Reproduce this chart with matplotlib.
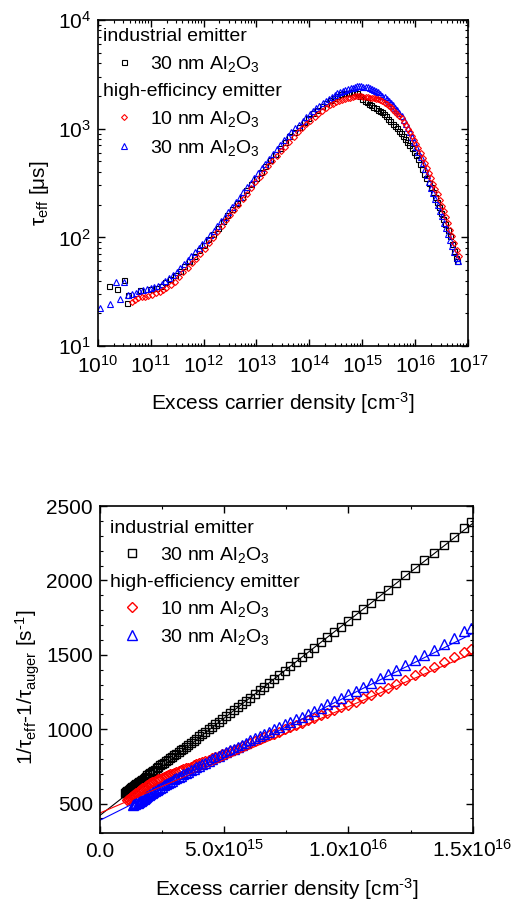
import numpy as np
import matplotlib
matplotlib.use("Agg")
import matplotlib.pyplot as plt
from matplotlib.ticker import LogLocator, MultipleLocator, NullFormatter
from matplotlib.lines import Line2D
from matplotlib.offsetbox import TextArea, DrawingArea, HPacker, VPacker, AnchoredOffsetbox

plt.rcParams['font.family'] = ['Liberation Sans', 'DejaVu Sans']
plt.rcParams['mathtext.fontset'] = 'custom'
plt.rcParams['mathtext.rm'] = 'Liberation Sans'
plt.rcParams['mathtext.it'] = 'Liberation Sans:italic'
plt.rcParams['mathtext.bf'] = 'Liberation Sans:bold'
plt.rcParams['mathtext.default'] = 'regular'

# ---- upper panel: tau_eff vs excess carrier density (log10 of n, tau in us) ----
top_black_lgn = [10.21, 10.36, 10.50, 10.55, 10.58, 10.80, 10.99,
                 11.10, 11.19, 11.28, 11.37, 11.46, 11.55, 11.64, 11.73, 11.82, 11.91,
                 12.00, 12.09, 12.18, 12.27, 12.36, 12.45, 12.54, 12.63, 12.72, 12.81,
                 12.90, 12.99, 13.08, 13.17, 13.26, 13.35, 13.44, 13.53, 13.62, 13.71,
                 13.80, 13.89, 13.98, 14.07, 14.15, 14.23, 14.31, 14.39, 14.46, 14.53,
                 14.60, 14.66, 14.72, 14.78, 14.84, 14.90, 14.95, 15.00, 15.05, 15.09,
                 15.13, 15.17, 15.21, 15.25, 15.29, 15.33, 15.37, 15.41, 15.45, 15.49,
                 15.53, 15.57, 15.61, 15.65, 15.69, 15.73, 15.77, 15.81, 15.85, 15.89,
                 15.93, 15.97, 16.01, 16.05, 16.09, 16.13, 16.17, 16.21, 16.25, 16.29,
                 16.33, 16.37, 16.41, 16.45, 16.49, 16.53, 16.57, 16.61, 16.65, 16.69,
                 16.73, 16.77, 16.79]
top_black_tau = [35.7, 33.3, 40.5, 25.0, 29.5, 32.8, 33.3,
                 34.3, 35.5, 38.5, 41.5, 44.9, 49.5, 55.0, 60.8, 68.1, 76.2,
                 85.1, 96.2, 108, 122, 140, 159, 182, 208, 237, 271,
                 309, 353, 402, 456, 519, 589, 670, 760, 851, 940,
                 1038, 1146, 1265, 1396, 1489, 1611, 1726, 1828, 1919, 2004,
                 2080, 2113, 2138, 2153, 2153, 2113, 2018, 1884, 1795, 1740,
                 1687, 1634, 1585, 1542, 1500, 1456, 1416, 1368, 1297, 1230,
                 1167, 1109, 1057, 1007, 959, 910, 855, 805, 757, 708,
                 659, 614, 571, 525, 474, 428, 385, 348, 316, 288,
                 263, 237, 211, 189, 168, 149, 132, 117, 102, 87,
                 75, 64, 60]

top_red_lgn = [10.64, 10.71, 10.77, 10.83, 10.89, 10.96, 11.02, 11.10, 11.18, 11.24,
               11.30, 11.38, 11.46, 11.54, 11.62, 11.70, 11.78, 11.86, 11.94, 12.02,
               12.10, 12.18, 12.26, 12.34, 12.42, 12.50, 12.58, 12.66, 12.74, 12.82,
               12.90, 12.98, 13.06, 13.14, 13.22, 13.30, 13.38, 13.46, 13.54, 13.62,
               13.70, 13.78, 13.86, 13.94, 14.02, 14.10, 14.17, 14.24, 14.31, 14.38,
               14.44, 14.50, 14.56, 14.62, 14.67, 14.72, 14.77, 14.82, 14.86, 14.90,
               14.94, 14.98, 15.02, 15.06, 15.10, 15.14, 15.18, 15.22, 15.26, 15.30,
               15.34, 15.38, 15.42, 15.46, 15.50, 15.54, 15.58, 15.62, 15.66, 15.70,
               15.74, 15.78, 15.82, 15.86, 15.90, 15.94, 15.98, 16.02, 16.06, 16.10,
               16.14, 16.18, 16.22, 16.26, 16.30, 16.34, 16.38, 16.42, 16.46, 16.50,
               16.54, 16.58, 16.62, 16.66, 16.70, 16.74, 16.78, 16.82]
top_red_tau = [25.6, 26.6, 27.5, 28.0, 28.5, 29.0, 29.5, 30.5, 31.6, 32.7,
               33.9, 36.5, 39.2, 43.5, 48.3, 52.8, 57.7, 63.6, 70.7, 78.9,
               88.5, 99.3, 112, 128, 145, 162, 180, 200, 225, 253,
               285, 320, 360, 403, 449, 499, 556, 618, 685, 759,
               843, 922, 1009, 1096, 1186, 1285, 1371, 1455, 1545, 1637,
               1694, 1742, 1794, 1849, 1884, 1908, 1932, 1954, 1977, 1995,
               1991, 1982, 1972, 1963, 1950, 1932, 1914, 1897, 1875, 1858,
               1841, 1782, 1730, 1675, 1622, 1567, 1500, 1436, 1374, 1315,
               1242, 1156, 1074, 998, 929, 855, 783, 718, 658, 603,
               540, 483, 433, 388, 348, 312, 279, 249, 221, 196,
               173, 154, 136, 118, 102, 89, 77, 67]

top_blue_lgn = [10.04, 10.23, 10.34, 10.43, 10.50, 10.58,
                10.65, 10.72, 10.79, 10.86, 10.93, 11.00, 11.07, 11.14, 11.21, 11.28,
                11.35, 11.42, 11.49, 11.56, 11.63, 11.70, 11.77, 11.84, 11.91, 11.98,
                12.05, 12.12, 12.19, 12.26, 12.33, 12.40, 12.47, 12.54, 12.61, 12.68,
                12.75, 12.82, 12.89, 12.96, 13.03, 13.10, 13.17, 13.24, 13.31, 13.38,
                13.45, 13.52, 13.59, 13.66, 13.73, 13.80, 13.87, 13.94, 14.01,
                14.07, 14.13, 14.19, 14.25, 14.31, 14.37, 14.43,
                14.48, 14.53, 14.58, 14.63, 14.68, 14.73, 14.78,
                14.82, 14.86, 14.90, 14.94, 14.98, 15.02, 15.06, 15.10, 15.14, 15.18,
                15.22, 15.26, 15.30, 15.34, 15.38, 15.42, 15.46, 15.50, 15.54, 15.58,
                15.62, 15.66, 15.70, 15.74, 15.78, 15.82, 15.86, 15.90, 15.94, 15.98,
                16.02, 16.06, 16.10, 16.14, 16.18, 16.22, 16.26, 16.30, 16.34, 16.38,
                16.42, 16.46, 16.50, 16.54, 16.58, 16.62, 16.66, 16.70, 16.74, 16.78,
                16.80]
top_blue_tau = [22.3, 24.3, 39.0, 27.1, 39.0, 29.5,
                30.3, 31.1, 31.9, 32.8, 33.7, 34.4, 35.2, 36.0, 37.5, 39.9,
                42.5, 45.2, 48.4, 52.4, 56.7, 61.4, 66.8, 73.0, 79.8, 87.1,
                95.5, 105, 115, 126, 140, 155, 172, 191, 211, 234,
                260, 288, 319, 354, 392, 433, 478, 528, 583, 645,
                712, 786, 863, 931, 1005, 1086, 1172, 1267, 1368,
                1462, 1545, 1629, 1718, 1807, 1892, 1972,
                2042, 2113, 2188, 2228, 2265, 2307, 2350,
                2382, 2410, 2443, 2455, 2455, 2438, 2421, 2399, 2355, 2312,
                2270, 2228, 2188, 2100, 2018, 1936, 1858, 1795, 1738, 1660,
                1563, 1475, 1390, 1294, 1189, 1094, 1007, 925, 837, 754,
                678, 611, 550, 482, 423, 371, 326, 286, 254, 225,
                199, 176, 156, 137, 121, 107, 94, 83, 73, 64,
                60]

# ---- lower panel: 1/tau_eff - 1/tau_auger vs n (n in 1e15 cm^-3, rate in 1/s) ----
bot_black_n = [1.00, 1.03, 1.06, 1.09, 1.12, 1.16, 1.19, 1.23, 1.26, 1.30,
               1.34, 1.38, 1.42, 1.46, 1.51, 1.55, 1.60, 1.65, 1.70, 1.75,
               1.80, 1.85, 1.91, 1.97, 2.03, 2.09, 2.15, 2.21, 2.28, 2.35,
               2.42, 2.49, 2.57, 2.64, 2.72, 2.80, 2.89, 2.97, 3.06, 3.16,
               3.25, 3.35, 3.45, 3.55, 3.66, 3.77, 3.88, 4.00, 4.12, 4.24,
               4.37, 4.50, 4.64, 4.78, 4.92, 5.07, 5.22, 5.38, 5.54, 5.70,
               5.87, 6.05, 6.23, 6.42, 6.61, 6.81, 7.01, 7.22, 7.44, 7.66,
               7.89, 8.13, 8.37, 8.62, 8.88, 9.15, 9.42, 9.70, 9.99, 10.29,
               10.60, 10.92, 11.25, 11.58, 11.93, 12.29, 12.66, 13.04, 13.43, 13.83,
               14.25, 14.67, 14.95]
bot_black_rate = [570, 574, 578, 582, 586, 591, 595, 600, 604, 609,
                  614, 620, 625, 630, 637, 642, 648, 655, 661, 668,
                  674, 681, 689, 697, 705, 712, 720, 728, 737, 746,
                  756, 765, 775, 784, 795, 805, 815, 824, 835, 847,
                  858, 870, 882, 895, 909, 923, 937, 952, 967, 982,
                  998, 1015, 1032, 1050, 1068, 1087, 1106, 1127, 1147, 1168,
                  1189, 1212, 1236, 1261, 1285, 1313, 1338, 1366, 1393, 1423,
                  1454, 1484, 1515, 1549, 1583, 1618, 1655, 1690, 1729, 1768,
                  1809, 1851, 1894, 1938, 1985, 2034, 2083, 2134, 2186, 2240,
                  2295, 2352, 2391]

bot_red_n = [1.09, 1.12, 1.16, 1.19, 1.23, 1.26, 1.30, 1.34, 1.38, 1.42,
             1.46, 1.51, 1.55, 1.60, 1.65, 1.70, 1.75, 1.80, 1.85, 1.91,
             1.97, 2.03, 2.09, 2.15, 2.21, 2.28, 2.35, 2.42, 2.49, 2.57,
             2.64, 2.72, 2.80, 2.89, 2.97, 3.06, 3.16, 3.25, 3.35, 3.45,
             3.55, 3.66, 3.77, 3.88, 4.00, 4.12, 4.24, 4.37, 4.50, 4.64,
             4.78, 4.92, 5.07, 5.22, 5.38, 5.54, 5.70, 5.87, 6.05, 6.23,
             6.42, 6.61, 6.81, 7.01, 7.22, 7.44, 7.66, 7.89, 8.13, 8.37,
             8.62, 8.88, 9.15, 9.42, 9.70, 9.99, 10.29, 10.60, 10.92, 11.25,
             11.58, 11.93, 12.29, 12.66, 13.04, 13.43, 13.83, 14.25, 14.67, 14.92]
bot_red_rate = [524, 528, 533, 537, 543, 547, 552, 558, 563, 569,
                574, 581, 585, 591, 596, 602, 607, 613, 618, 625,
                632, 637, 642, 647, 652, 657, 663, 668, 674, 680,
                685, 691, 696, 702, 707, 712, 718, 724, 730, 736,
                742, 749, 756, 763, 770, 778, 786, 795, 804, 813,
                823, 832, 842, 852, 863, 874, 885, 896, 908, 920,
                932, 945, 958, 971, 984, 999, 1013, 1028, 1043, 1059,
                1075, 1092, 1110, 1127, 1146, 1164, 1186, 1208, 1232, 1256,
                1280, 1305, 1332, 1361, 1391, 1421, 1452, 1483, 1517, 1537]

bot_blue_n = [1.34, 1.38, 1.42, 1.46, 1.51, 1.55, 1.60, 1.65, 1.70, 1.75,
              1.80, 1.85, 1.91, 1.97, 2.03, 2.09, 2.15, 2.21, 2.28, 2.35,
              2.42, 2.49, 2.57, 2.64, 2.72, 2.80, 2.89, 2.97, 3.06, 3.16,
              3.25, 3.35, 3.45, 3.55, 3.66, 3.77, 3.88, 4.00, 4.12, 4.24,
              4.37, 4.50, 4.64, 4.78, 4.92, 5.07, 5.22, 5.38, 5.54, 5.70,
              5.87, 6.05, 6.23, 6.42, 6.61, 6.81, 7.01, 7.22, 7.44, 7.66,
              7.89, 8.13, 8.37, 8.62, 8.88, 9.15, 9.42, 9.70, 9.99, 10.29,
              10.60, 10.92, 11.25, 11.58, 11.93, 12.29, 12.66, 13.04, 13.43, 13.83,
              14.25, 14.67, 14.92]
bot_blue_rate = [490, 494, 498, 501, 506, 510, 515, 520, 525, 531,
                 537, 543, 550, 557, 563, 570, 577, 583, 591, 599,
                 606, 614, 622, 629, 637, 645, 654, 662, 670, 679,
                 688, 697, 706, 715, 724, 734, 744, 755, 765, 775,
                 786, 798, 810, 821, 833, 846, 858, 870, 883, 896,
                 910, 924, 938, 953, 967, 983, 998, 1015, 1032, 1049,
                 1066, 1085, 1105, 1125, 1145, 1167, 1189, 1211, 1234, 1260,
                 1286, 1313, 1341, 1369, 1399, 1431, 1464, 1498, 1533, 1570,
                 1614, 1661, 1680]

# linear fits (intercept in 1/s, slope in 1/s per 1e15 cm^-3): black, red, blue
fit_intercept = [421, 437, 388]
fit_slope = [130.8, 71.5, 83.7]

# ---- ticks and text ----
top_xticks = [1e10, 1e11, 1e12, 1e13, 1e14, 1e15, 1e16, 1e17]
top_xlabels = [r'10$^{10}$', r'10$^{11}$', r'10$^{12}$', r'10$^{13}$',
               r'10$^{14}$', r'10$^{15}$', r'10$^{16}$', r'10$^{17}$']
top_yticks = [1e1, 1e2, 1e3, 1e4]
top_ylabels = [r'10$^{1}$', r'10$^{2}$', r'10$^{3}$', r'10$^{4}$']
bot_xticks = [0, 5e15, 1e16, 1.5e16]
bot_xlabels = ['0.0', r'5.0x10$^{15}$', r'1.0x10$^{16}$', r'1.5x10$^{16}$']
bot_yticks = [500, 1000, 1500, 2000, 2500]

series_names = ['30 nm Al$_2$O$_3$', '10 nm Al$_2$O$_3$', '30 nm Al$_2$O$_3$']
series_colors = ['black', 'red', 'blue']
series_markers = ['s', 'D', '^']

xlab = r'Excess carrier density [cm$^{\text{-}3}$]'


def add_key(ax, header2, sizes, mew, box_w, anchor, vsep):
    rows = [TextArea('industrial emitter', textprops=dict(size=14))]
    for i in range(3):
        if i == 1:
            rows.append(TextArea(header2, textprops=dict(size=14)))
        da = DrawingArea(box_w, 10, 0, 0)
        da.add_artist(Line2D([box_w / 2], [5], ls='none', marker=series_markers[i],
                             ms=sizes[i], mfc='none', mec=series_colors[i], mew=mew))
        ta = TextArea(series_names[i], textprops=dict(size=14))
        rows.append(HPacker(children=[da, ta], align='baseline', pad=0, sep=4))
    box = VPacker(children=rows, align='left', pad=0, sep=vsep)
    ab = AnchoredOffsetbox(loc='upper left', child=box, pad=0, borderpad=0, frameon=False,
                           bbox_to_anchor=anchor, bbox_transform=ax.transAxes)
    ax.add_artist(ab)


def style_axes(ax):
    for sp in ax.spines.values():
        sp.set_linewidth(1.2)
    ax.tick_params(which='both', direction='in', top=True, right=True, labelsize=15)
    ax.tick_params(which='major', length=5, width=1.0)
    ax.tick_params(which='minor', length=2.5, width=0.8)


fig = plt.figure(figsize=(5.14, 9.06), dpi=100)

# upper panel
ax1 = fig.add_axes([0.190, 0.618, 0.721, 0.360])
ax1.set_xscale('log')
ax1.set_yscale('log')
top_sizes = [3.6, 3.0, 4.3]
top_data = [(top_black_lgn, top_black_tau), (top_blue_lgn, top_blue_tau), (top_red_lgn, top_red_tau)]
for k, (lgn, tau) in zip([0, 2, 1], top_data):
    ax1.plot(10 ** np.array(lgn), tau, ls='none', marker=series_markers[k], ms=top_sizes[k],
             mfc='none', mec=series_colors[k], mew=0.8)
ax1.set_xlim(1e10, 1e17)
ax1.set_ylim(10, 1e4)
ax1.set_xticks(top_xticks)
ax1.set_xticklabels(top_xlabels)
ax1.set_yticks(top_yticks)
ax1.set_yticklabels(top_ylabels)
ax1.xaxis.set_minor_locator(LogLocator(base=10, subs=np.arange(2, 10), numticks=20))
ax1.yaxis.set_minor_locator(LogLocator(base=10, subs=np.arange(2, 10), numticks=20))
ax1.xaxis.set_minor_formatter(NullFormatter())
ax1.yaxis.set_minor_formatter(NullFormatter())
style_axes(ax1)
ax1.tick_params(axis='x', which='major', pad=6)
ax1.tick_params(axis='y', which='major', pad=5)
ax1.set_xlabel(xlab, fontsize=15, va='center')
ax1.xaxis.set_label_coords(0.5, -0.175)
ax1.set_ylabel('τ$_{eff}$ [μs]', fontsize=15, va='center')
ax1.yaxis.set_label_coords(-0.156, 0.47)
add_key(ax1, 'high-efficincy emitter', [3.6, 3.0, 4.3], 0.8, 30, (0.015, 0.976), 6.5)

# lower panel
ax2 = fig.add_axes([0.1946, 0.0802, 0.725, 0.3613])
bot_sizes = [5.8, 5.0, 7.5]
bot_data = [(bot_black_n, bot_black_rate), (bot_red_n, bot_red_rate), (bot_blue_n, bot_blue_rate)]
for k, (n, rate) in enumerate(bot_data):
    ax2.plot(np.array(n) * 1e15, rate, ls='none', marker=series_markers[k], ms=bot_sizes[k],
             mfc='none', mec=series_colors[k], mew=1.0)
ax2.set_xlim(0, 1.5e16)
ax2.set_ylim(300, 2500)
xfit = np.array(ax2.get_xlim())
for k in range(3):
    ax2.plot(xfit, fit_intercept[k] + fit_slope[k] * xfit / 1e15, color=series_colors[k], lw=0.8)
ax2.set_xticks(bot_xticks)
ax2.set_xticklabels(bot_xlabels)
ax2.set_yticks(bot_yticks)
ax2.xaxis.set_minor_locator(MultipleLocator(2.5e15))
ax2.yaxis.set_minor_locator(MultipleLocator(100))
style_axes(ax2)
ax2.tick_params(axis='x', which='major', pad=17)
ax2.tick_params(axis='y', which='major', pad=5)
for lab in ax2.get_xticklabels():
    lab.set_va('baseline')
ax2.set_xlabel(xlab, fontsize=15, va='center')
ax2.xaxis.set_label_coords(0.5, -0.171)
ax2.set_ylabel(r'1/τ$_{eff}$-1/τ$_{auger}$ [s$^{\text{-}1}$]', fontsize=15, va='center')
ax2.yaxis.set_label_coords(-0.193, 0.447)
add_key(ax2, 'high-efficiency emitter', [5.8, 5.0, 7.5], 1.0, 32, (0.027, 0.957), 6)

fig.savefig('out.png', dpi=100)
